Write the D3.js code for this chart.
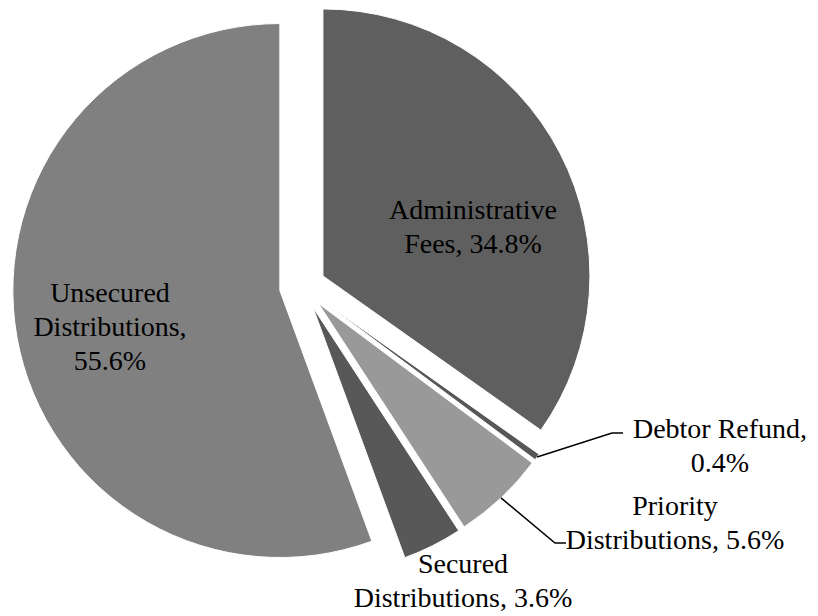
<!DOCTYPE html>
<html><head><meta charset="utf-8">
<script src="https://cdn.jsdelivr.net/npm/d3@7"></script>
<style>html,body{margin:0;padding:0;background:#fff;}svg{display:block;}</style>
</head><body>
<svg id="chart" width="818" height="616"></svg>
<script>
// Data
const categories = ["Administrative Fees", "Debtor Refund", "Priority Distributions", "Secured Distributions", "Unsecured Distributions"];
const values = [34.8, 0.4, 5.6, 3.6, 55.6];
const labelLines = [
  ["Administrative", "Fees, 34.8%"],
  ["Debtor Refund,", "0.4%"],
  ["Priority", "Distributions, 5.6%"],
  ["Secured", "Distributions, 3.6%"],
  ["Unsecured", "Distributions,", "55.6%"]
];
const colors = ["#5f5f5f", "#575757", "#999999", "#585858", "#808080"];

// Layout
const W = 818, H = 616;
const cx = 302.5, cy = 286.5, R = 267, explode = 23;
const lineH = 34;
// label anchor (center of text block) and leader line elbow per slice
const labelPos = [
  {x: 473, y: 226, leader: null},
  {x: 720, y: 445, leader: {elbow: [612, 433], end: [623, 433]}},
  {x: 675, y: 522, leader: {elbow: [555, 543], end: [566, 543]}},
  {x: 463, y: 580, leader: null},
  {x: 110, y: 326, leader: null}
];

const svg = d3.select("#chart");
const pie = d3.pie().sort(null).value(d => d)(values);
const arc = d3.arc().innerRadius(0).outerRadius(R);

const g = svg.append("g").attr("transform", `translate(${cx},${cy})`);

const offset = d => {
  const a = (d.startAngle + d.endAngle) / 2;
  return [explode * Math.sin(a), -explode * Math.cos(a)];
};

g.selectAll("path.slice").data(pie).join("path")
  .attr("class", "slice")
  .attr("d", arc)
  .attr("transform", d => { const o = offset(d); return `translate(${o[0]},${o[1]})`; })
  .attr("fill", (d, i) => colors[i])
  .attr("stroke", "#ffffff")
  .attr("stroke-width", 1);

// leader lines
pie.forEach((d, i) => {
  const lp = labelPos[i];
  if (!lp.leader) return;
  const a = (d.startAngle + d.endAngle) / 2;
  const o = offset(d);
  const sx = cx + o[0] + R * Math.sin(a);
  const sy = cy + o[1] - R * Math.cos(a);
  svg.append("polyline")
    .attr("points", [[sx, sy], lp.leader.elbow, lp.leader.end].map(p => p.join(",")).join(" "))
    .attr("fill", "none")
    .attr("stroke", "#000")
    .attr("stroke-width", 1.5);
});

// labels
labelLines.forEach((lines, i) => {
  const lp = labelPos[i];
  const n = lines.length;
  const t = svg.append("text")
    .attr("text-anchor", "middle")
    .attr("font-family", "'Liberation Serif', 'Times New Roman', serif")
    .attr("font-size", 28)
    .attr("fill", "#000");
  lines.forEach((ln, k) => {
    t.append("tspan")
      .attr("x", lp.x)
      .attr("y", lp.y + (k - (n - 1) / 2) * lineH)
      .attr("dy", "0.35em")
      .text(ln);
  });
});
</script>
</body></html>
